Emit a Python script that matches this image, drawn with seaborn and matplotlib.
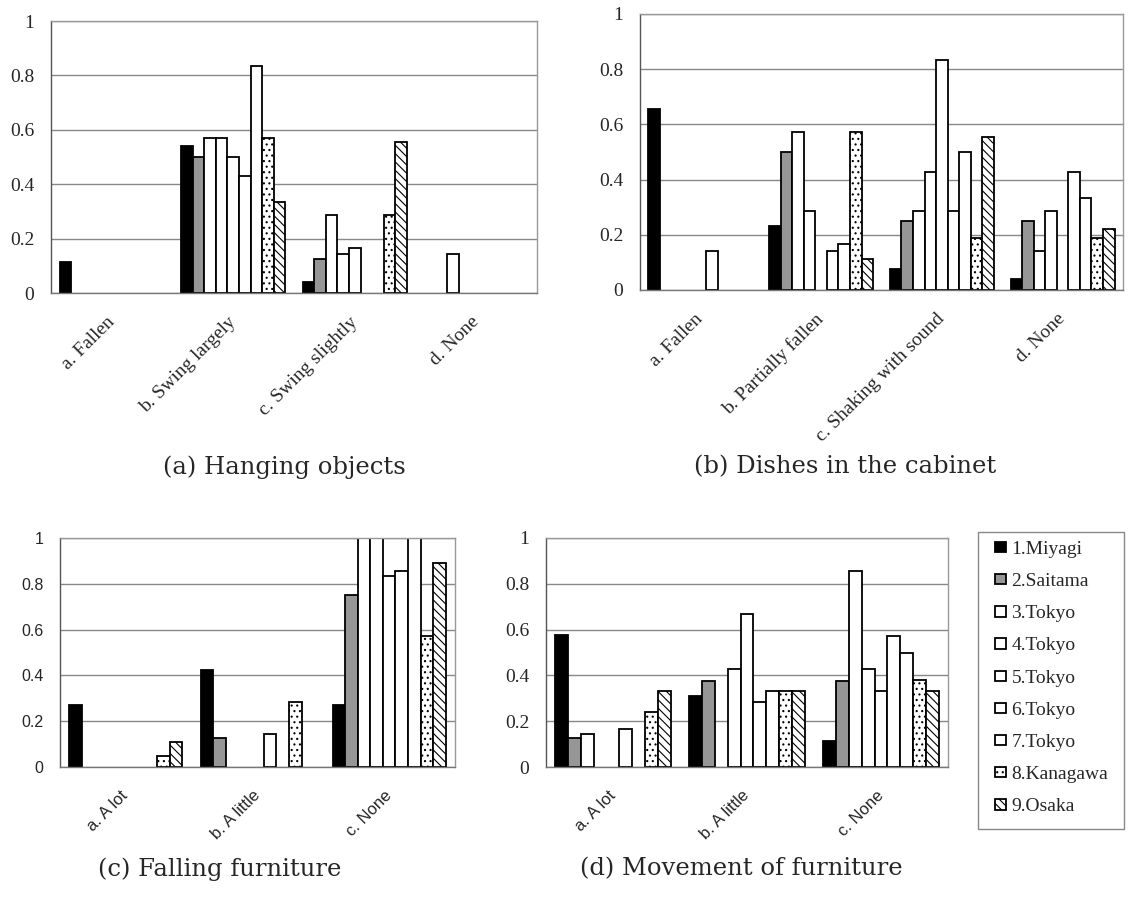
import matplotlib
matplotlib.use('Agg')
import matplotlib.pyplot as plt
import matplotlib.transforms as mtransforms
from matplotlib.patches import Patch, Rectangle
import numpy as np
import pandas as pd
import seaborn as sns

sns.set_style('white')
plt.rcParams['hatch.linewidth'] = 0.8

# 9 prefectures (series)
prefs = ['1.Miyagi', '2.Saitama', '3.Tokyo', '4.Tokyo', '5.Tokyo',
         '6.Tokyo', '7.Tokyo', '8.Kanagawa', '9.Osaka']
face = ['#000000', '#969696'] + ['#ffffff'] * 7
hatches = [''] * 7 + ['...', '\\\\\\\\']

# (a) hanging objects: one row per category, one value per prefecture
hang_cats = ['a. Fallen', 'b. Swing largely', 'c. Swing slightly', 'd. None']
hang_vals = [
    [0.115, 0, 0, 0, 0, 0, 0, 0, 0],
    [0.54, 0.50, 0.571, 0.571, 0.50, 0.429, 0.833, 0.571, 0.333],
    [0.04, 0.125, 0.286, 0.143, 0.167, 0, 0, 0.286, 0.556],
    [0, 0, 0.143, 0, 0, 0, 0, 0, 0],
]

# (b) dishes in the cabinet
dish_cats = ['a. Fallen', 'b. Partially fallen', 'c. Shaking with sound', 'd. None']
dish_vals = [
    [0.655, 0, 0, 0, 0, 0.143, 0, 0, 0],
    [0.233, 0.50, 0.571, 0.286, 0, 0.143, 0.167, 0.571, 0.111],
    [0.077, 0.25, 0.286, 0.429, 0.833, 0.286, 0.50, 0.19, 0.556],
    [0.04, 0.25, 0.143, 0.286, 0, 0.429, 0.333, 0.19, 0.222],
]

# (c) falling furniture
fall_cats = ['a. A lot', 'b. A little', 'c. None']
fall_vals = [
    [0.27, 0, 0, 0, 0, 0, 0, 0.048, 0.111],
    [0.423, 0.125, 0, 0, 0, 0.143, 0, 0.286, 0],
    [0.27, 0.75, 1.0, 1.0, 0.833, 0.857, 1.0, 0.571, 0.889],
]

# (d) movement of furniture
move_cats = ['a. A lot', 'b. A little', 'c. None']
move_vals = [
    [0.577, 0.125, 0.143, 0, 0, 0.167, 0, 0.238, 0.333],
    [0.308, 0.375, 0, 0.429, 0.667, 0.286, 0.333, 0.333, 0.333],
    [0.115, 0.375, 0.857, 0.429, 0.333, 0.571, 0.50, 0.381, 0.333],
]

yticks = [0, 0.2, 0.4, 0.6, 0.8, 1.0]
ytick_labels = ['0', '0.2', '0.4', '0.6', '0.8', '1']

W, H = 1128, 899
fig = plt.figure(figsize=(W / 100, H / 100), dpi=100)

SERIF = 'Liberation Serif'
SANS = 'Liberation Sans'


def px(l, t, r, b):
    return [l / W, 1 - b / H, (r - l) / W, (b - t) / H]


def panel(rect, cats, vals, yfont, ysize, xfont, xsize):
    ax = fig.add_axes(px(*rect))
    df = pd.DataFrame(vals, index=cats, columns=prefs).reset_index(names='cat')
    df = df.melt(id_vars='cat', var_name='pref', value_name='val')
    sns.barplot(data=df, x='cat', y='val', hue='pref', order=cats, hue_order=prefs,
                palette=dict(zip(prefs, face)), saturation=1, edgecolor='black',
                linewidth=1.3, width=0.86, errorbar=None, legend=False, ax=ax)
    for cont, h in zip(ax.containers, hatches):
        for bar in cont:
            bar.set_hatch(h)
            if bar.get_height() == 0:
                bar.set_visible(False)
    ax.set_ylim(0, 1)
    ax.set_xlim(-0.5, len(cats) - 0.5)
    ax.set_xlabel('')
    ax.set_ylabel('')
    ax.set_yticks(yticks)
    ax.set_yticklabels(ytick_labels, family=yfont, size=ysize)
    ax.set_xticks(range(len(cats)))
    ax.set_xticklabels(cats, rotation=45, ha='right', va='center',
                       rotation_mode='anchor', family=xfont, size=xsize)
    off = mtransforms.ScaledTranslation(0.1, 0, fig.dpi_scale_trans)
    for lbl in ax.get_xticklabels():
        lbl.set_transform(lbl.get_transform() + off)
    ax.tick_params(axis='y', length=0, pad=12)
    ax.tick_params(axis='x', length=0, pad=19)
    ax.yaxis.grid(True, color='#888888', lw=1)
    ax.set_axisbelow(True)
    for s in ax.spines.values():
        s.set_color('#999999')
        s.set_linewidth(1)
    ax.spines['left'].set_color('#555555')
    ax.spines['bottom'].set_color('#777777')
    return ax


panel((51, 21, 537, 293), hang_cats, hang_vals, SERIF, 14, SERIF, 14)
panel((640, 14, 1123, 290), dish_cats, dish_vals, SERIF, 14, SERIF, 14)
panel((60, 538, 455, 767), fall_cats, fall_vals, SANS, 11.5, SANS, 12)
panel((546, 538, 948, 767), move_cats, move_vals, SERIF, 14, SANS, 12)

# captions
cap = dict(ha='center', va='center', family='DejaVu Serif', size=17.5)
fig.text(284 / W, 1 - 467 / H, '(a) Hanging objects', **cap)
fig.text(845 / W, 1 - 467 / H, '(b) Dishes in the cabinet', **cap)
fig.text(220 / W, 1 - 869 / H, '(c) Falling furniture', **cap)
fig.text(741 / W, 1 - 869 / H, '(d) Movement of furniture', **cap)

# legend box
fig.patches.append(Rectangle((978 / W, 1 - 829 / H), 146 / W, 297 / H,
                             transform=fig.transFigure, fill=False,
                             edgecolor='#888888', lw=1))
handles = [Patch(facecolor=f, edgecolor='black', hatch=h, lw=1.3)
           for f, h in zip(face, hatches)]
fig.legend(handles, prefs, loc='upper left', bbox_to_anchor=(995 / W, 1 - 541 / H),
           frameon=False, borderaxespad=0, borderpad=0, handlelength=0.55,
           handleheight=0.45, handletextpad=0.3, labelspacing=0.78,
           prop={'family': SERIF, 'size': 14})

fig.savefig('out.png', dpi=100)
